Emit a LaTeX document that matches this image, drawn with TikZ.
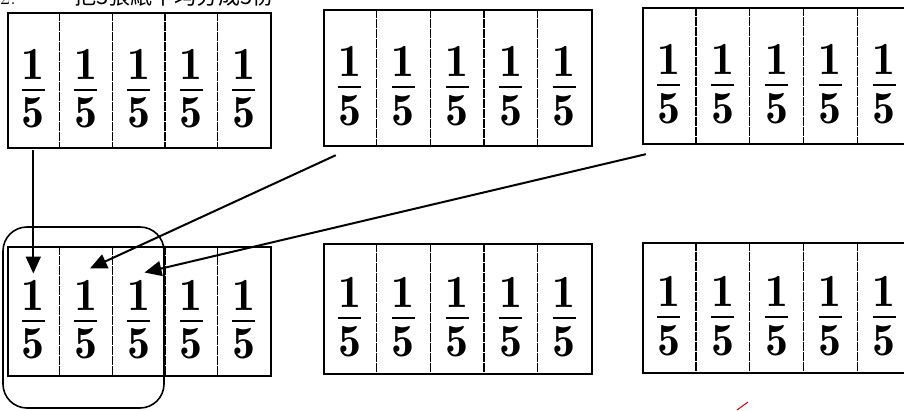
\documentclass[tikz,border=0pt]{standalone}
\usepackage{amsmath}
\usepackage{fontspec}
\newfontfamily\cjkfont{Noto Sans CJK TC}
\usetikzlibrary{arrows.meta, calc}

\newcommand{\fifthfrac}{$\genfrac{}{}{2.2pt}{0}{\mathbf{1}}{\mathbf{5}}$}

\tikzset{
  strip/.style={draw, line width=2.2pt, inner sep=0pt, anchor=north west},
  cell/.style={inner sep=0pt},
  fifth/.style={inner sep=0pt, font=\fontsize{46}{54}\selectfont},
  divider/.style={line width=1.1pt, dash pattern=on 9pt off 1pt},
  pointer/.style={-{Triangle[length=17pt,width=15pt]}, line width=2pt},
  group/.style={draw, line width=1.6pt, rounded corners=24pt},
}

\begin{document}
\begin{tikzpicture}[x=1pt, y=1pt]
\useasboundingbox (0,0) rectangle (904,410);
% heading, cut off by the top edge
\begin{scope}
  \clip (0,401) rectangle (904,410);
  \node[anchor=base west, inner sep=0pt, font=\fontsize{22}{26}\selectfont] (num) at (0,405) {2.};
  \node[anchor=base west, inner sep=0pt, font=\cjkfont\fontsize{22}{26}\selectfont] (task) at (74,405) {把3張紙平均分成5份};
\end{scope}
% six strips of fifths
\foreach \s/\x/\y/\w/\h in {a/7/398/263/135, b/323/401/268/136, c/642/403/269/136,
                            d/7/164/263/129, e/323/167/268/130, f/642/168/269/130} {
  \pgfmathsetmacro\cw{\w/5}
  \node[strip, minimum width=\w pt, minimum height=\h pt] (\s) at (\x,\y) {};
  \foreach \i in {1,...,5} {
    \node[cell, minimum width=\cw pt, minimum height=\h pt] (\s\i) at ({\x+(\i-0.5)*\cw}, {\y-\h/2}) {};
    \node[fifth] (\s\i-n) at ([yshift=-9pt]\s\i.center) {\fifthfrac};
  }
  \foreach \k in {1,...,4}
    \draw[divider] (\s\k.north east) -- (\s\k.south east);
}
% three fifths gathered
\draw[group] (3,183) rectangle (164,2);
\coordinate (s1) at ([yshift=-3pt]a1.south);
\coordinate (s2) at ([xshift=-14pt, yshift=-10pt]b1.south);
\coordinate (s3) at ([xshift=4pt, yshift=-11pt]c1.south west);
\coordinate (t1) at ([yshift=37pt]d1.center);
\coordinate (t2) at ([xshift=4pt, yshift=42pt]d2.center);
\coordinate (t3) at ([xshift=6pt, yshift=38pt]d3.center);
\draw[pointer] (s1) -- (t1);
\draw[pointer] (s2) -- (t2);
\draw[pointer] (s3) -- (t3);
% red pen mark
\draw[red!80!black, line width=1pt] (737,0) -- (748,8);
\end{tikzpicture}
\end{document}
